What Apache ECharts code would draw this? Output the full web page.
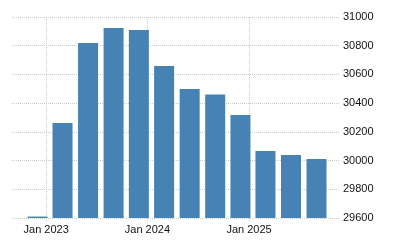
<!DOCTYPE html>
<html>
<head>
<meta charset="utf-8">
<script src="https://cdn.jsdelivr.net/npm/echarts@6/dist/echarts.min.js"></script>
<style>html,body{margin:0;padding:0;background:#fff}#c{width:400px;height:250px}</style>
</head>
<body>
<div id="c"></div>
<script>
var dates = ['2022-12-01','2023-03-01','2023-06-01','2023-09-01','2023-12-01','2024-03-01','2024-06-01','2024-09-01','2024-12-01','2025-03-01','2025-06-01','2025-09-01'];
var values = [29610, 30262, 30819, 30923, 30909, 30659, 30498, 30461, 30317, 30067, 30039, 30011];
var xTicks = ['2023-01-01', '2024-01-01', '2025-01-01'];
var yMin = 29600, yMax = 31000, yStep = 200;

var months = ['Jan','Feb','Mar','Apr','May','Jun','Jul','Aug','Sep','Oct','Nov','Dec'];
function toTs(s){ var p = s.split('-'); return Date.UTC(+p[0], +p[1]-1, +p[2]); }

var chart = echarts.init(document.getElementById('c'), null, {renderer:'canvas'});
var grid = '#cccccc';
chart.setOption({
  animation: false,
  grid: {left: 12, right: 61, top: 17, bottom: 32},
  xAxis: {
    type: 'value',
    min: toTs('2022-08-31'),
    max: toTs('2025-11-21'),
    axisLine: {show: false},
    axisTick: {show: true, length: 3, customValues: xTicks.map(toTs), lineStyle: {color: grid, type: 'dotted'}},
    axisLabel: {
      customValues: xTicks.map(toTs),
      fontFamily: 'Liberation Sans, Arial, sans-serif', fontSize: 11, color: '#111', margin: 6,
      formatter: function(v){ var d = new Date(v); return months[d.getUTCMonth()] + ' ' + d.getUTCFullYear(); }
    },
    splitLine: {show: true, lineStyle: {color: grid, type: 'dotted', width: 1}}
  },
  yAxis: {
    type: 'value',
    position: 'right',
    min: yMin, max: yMax, interval: yStep,
    axisLine: {show: false},
    axisTick: {show: false},
    axisLabel: {fontFamily: 'Liberation Sans, Arial, sans-serif', fontSize: 11, color: '#111', margin: 4, align: 'left',
      formatter: function(v){ return String(v); }},
    splitLine: {show: true, lineStyle: {color: grid, type: 'dotted', width: 1}}
  },
  series: [{
    type: 'bar',
    data: dates.map(function(d, i){ return [toTs(d), values[i]]; }),
    barWidth: 20,
    itemStyle: {color: '#4682B4'}
  }]
});
</script>
</body>
</html>
